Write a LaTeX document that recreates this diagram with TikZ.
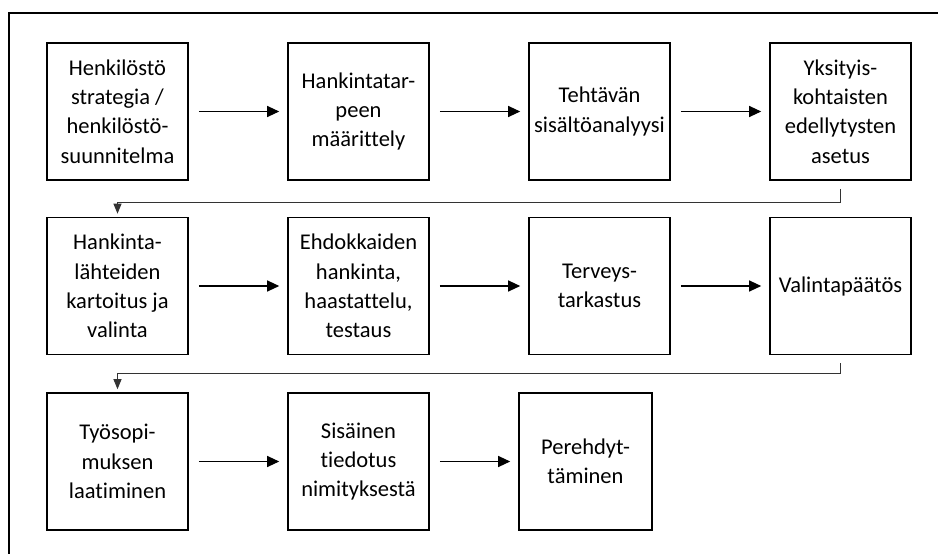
\documentclass[tikz,border=0pt]{standalone}
\usepackage{fontspec}
\setmainfont{Carlito}[Ligatures={NoCommon,NoContextual}]
\usetikzlibrary{arrows.meta}
\begin{document}
\begin{tikzpicture}[x=1pt,y=-1pt,
  box/.style={draw,line width=1.6pt,minimum width=141pt,minimum height=137pt,inner sep=0pt,align=center,font=\fontsize{22.5}{29.3}\selectfont},
  flow/.style={-{Triangle[length=12pt,width=11pt]},line width=1.2pt,shorten <=10pt,shorten >=8pt},
  link/.style={-{Triangle[length=10pt,width=8pt]},line width=1pt,draw=black!80,shorten <=8pt,shorten >=3pt}]
        \useasboundingbox (0,0) rectangle (938,554);
        \coordinate (c1) at (117.5,111.5);
        \coordinate (c2) at (358.5,111.5);
        \coordinate (c3) at (599.5,111.5);
        \coordinate (c4) at (840.5,111.5);
        \coordinate (c5) at (117.5,286);
        \coordinate (c6) at (358.5,286);
        \coordinate (c7) at (599.5,286);
        \coordinate (c8) at (840.5,286);
        \coordinate (c9) at (117.5,461.5);
        \coordinate (c10) at (358.5,461.5);
        \coordinate (c11) at (585.5,461.5);
        \draw[line width=1.6pt] (938,13)--(9,13)--(9,554);
        \node[box] (b1) at (c1) {Henkilöstö\\strategia /\\henkilöstö-\\suunnitelma};
        \node[box] (b2) at (c2) {Hankintatar-\\peen\\määrittely};
        \node[box] (b3) at (c3) {Tehtävän\\sisältöanalyysi};
        \node[box] (b4) at (c4) {Yksityis-\\kohtaisten\\edellytysten\\asetus};
        \node[box] (b5) at (c5) {Hankinta-\\lähteiden\\kartoitus ja\\valinta};
        \node[box] (b6) at (c6) {Ehdokkaiden\\hankinta,\\haastattelu,\\testaus};
        \node[box] (b7) at (c7) {Terveys-\\tarkastus};
        \node[box] (b8) at (c8) {Valintapäätös};
        \node[box] (b9) at (c9) {Työsopi-\\muksen\\laatiminen};
        \node[box] (b10) at (c10) {Sisäinen\\tiedotus\\nimityksestä};
        \node[box,minimum width=133pt] (b11) at (c11) {Perehdyt-\\täminen};
        \draw[flow] (b1)--(b2);
        \draw[flow] (b2)--(b3);
        \draw[flow] (b3)--(b4);
        \draw[flow] (b5)--(b6);
        \draw[flow] (b6)--(b7);
        \draw[flow] (b7)--(b8);
        \draw[flow] (b9)--(b10);
        \draw[flow] (b10)--(b11);
        \draw[link] (b4.south)--++(0,22)-|(b5.north);
        \draw[link] (b8.south)--++(0,18)-|(b9.north);
      \end{tikzpicture}
\end{document}
